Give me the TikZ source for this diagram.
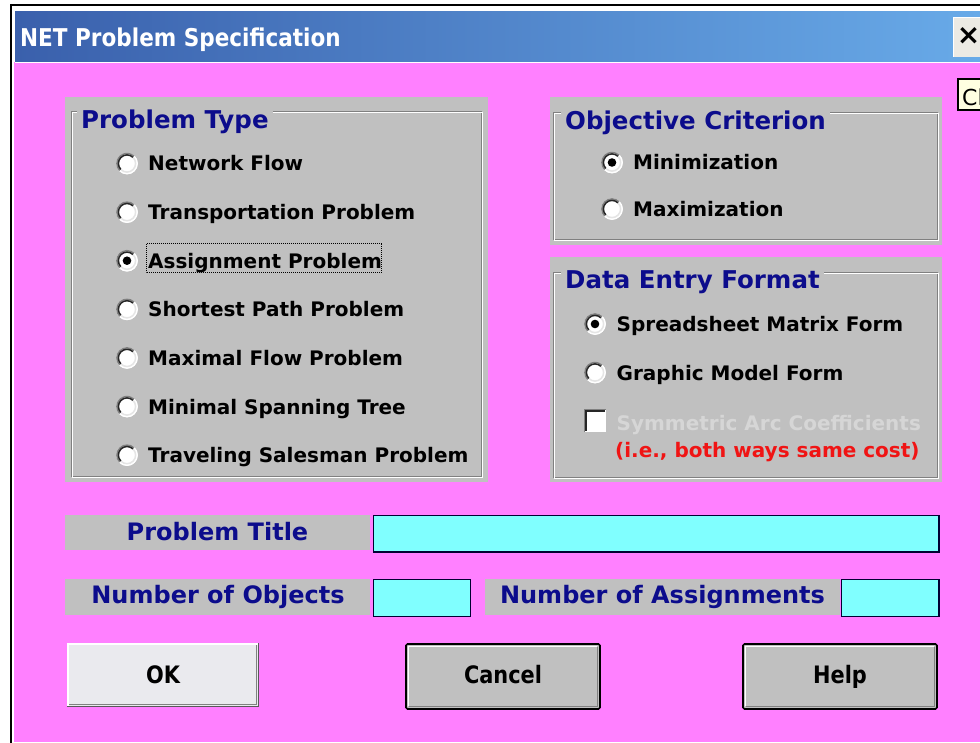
\documentclass[tikz,border=0pt]{standalone}
\usepackage{fontspec}
\setmainfont{DejaVu Sans}
\definecolor{pinkbg}{RGB}{255,128,255}
\definecolor{winGray}{RGB}{192,192,192}
\definecolor{fieldCyan}{RGB}{128,255,255}
\definecolor{navyTxt}{RGB}{12,12,140}
\definecolor{tbL}{RGB}{58,96,172}
\definecolor{tbR}{RGB}{104,170,232}
\definecolor{disTxt}{RGB}{214,214,214}
\definecolor{redTxt}{RGB}{240,20,20}
\definecolor{shadowGray}{RGB}{128,128,128}
\definecolor{okFill}{RGB}{234,234,238}
\definecolor{closeFill}{RGB}{236,234,228}
\definecolor{tipFill}{RGB}{255,255,225}
\tikzset{
  item/.style={inner sep=0pt, anchor=base west, text=black, font=\fontsize{20}{24}\selectfont\bfseries},
  grouptitle/.style={inner xsep=4pt, inner ysep=2pt, anchor=base west, fill=winGray, text=navyTxt, font=\fontsize{24.5}{28}\selectfont\bfseries},
  fieldlabel/.style={inner sep=0pt, anchor=base, text=navyTxt, font=\fontsize{24}{28}\selectfont\bfseries},
  fieldbox/.style={draw=black!80!blue, line width=1.6pt, fill=fieldCyan},
  btntext/.style={inner sep=0pt, anchor=base, text=black, font=\fontsize{24}{28}\selectfont\bfseries},
  radiobtn/.pic={
    \fill[white] (0,0) circle (10.8);
    \draw[shadowGray, line width=1.5pt] (135:10.1) arc (135:315:10.1);
    \draw[white, line width=1.5pt] (315:10.1) arc (315:495:10.1);
    \draw[black!85, line width=1.5pt] (135:8.6) arc (135:315:8.6);
    \draw[black!10, line width=1.5pt] (315:8.6) arc (315:495:8.6);
  },
  radiosel/.pic={
    \pic {radiobtn};
    \fill[black] (0,0) circle (4.3);
  },
}
\begin{document}
\begin{tikzpicture}[x=1pt,y=-1pt]
\useasboundingbox (0,0) rectangle (980,743);
\fill[white] (0,0) rectangle (980,743);
% window frame
\fill[pinkbg] (14,62) rectangle (980,742);
\shade[left color=tbL, right color=tbR] (15,12) rectangle (980,62);
\draw[white, line width=1pt] (15,62.5) -- (980,62.5);
\draw[black, line width=2pt] (10,5) -- (980,5);
\draw[black, line width=2pt] (11,4) -- (11,743);
\node[inner sep=0pt, anchor=base west, text=white, font=\fontsize{24.5}{28}\selectfont\bfseries] (title) at (20,46.5) {\scalebox{0.88}[1]{NET Problem Specification}};
% close button
\fill[closeFill] (953,17) rectangle (985,57);
\draw[white, line width=1.2pt] (953.6,57) -- (953.6,17.6) -- (985,17.6);
\node[inner sep=0pt, text=black, font=\fontsize{28}{30}\selectfont\bfseries] (close) at (968.5,36) {×};
% tooltip (cut off at the right edge, as in the reference)
\draw[black, line width=1.2pt, fill=tipFill] (958,79) rectangle (992,110);
\node[inner sep=0pt, anchor=base west, text=black, font=\fontsize{22}{26}\selectfont] (tip) at (962,106) {Cl};

% ---------- Problem Type group
\fill[winGray] (65,97) rectangle (488,482);
\draw[shadowGray, line width=1pt] (71,112) rectangle (481,476);
\draw[white, line width=1pt] (72,113) rectangle (482,477);
\node[grouptitle] (pt) at (77,129) {Problem Type};
\foreach \n/\t [count=\i from 0] in {nf/Network Flow, tp/Transportation Problem, ap/Assignment Problem, sp/Shortest Path Problem, mf/Maximal Flow Problem, ms/Minimal Spanning Tree, ts/Traveling Salesman Problem}{
  \pgfmathsetmacro{\b}{171+48.6*\i}
  \node[item] (\n) at (148,\b) {\t};
}
\pic at (127,163.5) {radiobtn};
\pic at (127,212.1) {radiobtn};
\pic at (127,260.7) {radiosel};
\pic at (127,309.3) {radiobtn};
\pic at (127,357.9) {radiobtn};
\pic at (127,406.5) {radiobtn};
\pic at (127,455.1) {radiobtn};
\draw[black, line width=1pt, dash pattern=on 1pt off 1pt] (146,244) rectangle (381,273);

% ---------- Objective Criterion group
\fill[winGray] (550,97) rectangle (942,245);
\draw[shadowGray, line width=1pt] (553,113) rectangle (937,240);
\draw[white, line width=1pt] (554,114) rectangle (938,241);
\node[grouptitle] (oc) at (561,130) {Objective Criterion};
\pic at (612,162.5) {radiosel};
\node[item] (mini) at (633,170) {Minimization};
\pic at (612,209) {radiobtn};
\node[item] (maxi) at (633,216.5) {Maximization};

% ---------- Data Entry Format group
\fill[winGray] (550,257) rectangle (942,482);
\draw[shadowGray, line width=1pt] (553,273) rectangle (937,477);
\draw[white, line width=1pt] (554,274) rectangle (938,478);
\node[grouptitle] (de) at (561,289) {Data Entry Format};
\pic at (595,324) {radiosel};
\node[item] (smf) at (616.5,331.5) {Spreadsheet Matrix Form};
\pic at (595,372.5) {radiobtn};
\node[item] (gmf) at (616.5,380) {Graphic Model Form};
\fill[white] (584,409) rectangle (606,432);
\draw[shadowGray, line width=1.2pt] (584.6,432) -- (584.6,409.6) -- (606,409.6);
\draw[black!85, line width=1.2pt] (586,431) -- (586,411) -- (605,411);
\node[item, text=disTxt] (sac) at (616.5,430) {Symmetric Arc Coefficients};
\node[item, text=redTxt] (note) at (615,457) {(i.e., both ways same cost)};

% ---------- fields
\fill[winGray] (65,515) rectangle (370,550);
\node[fieldlabel] (ptl) at (217.5,540) {Problem Title};
\draw[fieldbox] (373.5,515.5) rectangle (939,552);
\fill[winGray] (65,579) rectangle (370,615);
\node[fieldlabel] (nol) at (218,603) {Number of Objects};
\draw[fieldbox] (373.5,579.5) rectangle (470.5,616.5);
\fill[winGray] (485,579) rectangle (840,615);
\node[fieldlabel] (nal) at (662.5,603) {Number of Assignments};
\draw[fieldbox] (841.5,579.5) rectangle (939,616.5);

% ---------- buttons
% OK
\fill[okFill] (67,643) rectangle (259,707);
\draw[white, line width=1.5pt] (67.75,706) -- (67.75,643.75) -- (258,643.75);
\draw[black!65, line width=1.5pt] (67,706.25) -- (258.25,706.25) -- (258.25,643);
\draw[shadowGray, line width=1pt] (69,704.5) -- (256.5,704.5) -- (256.5,645);
\node[btntext] (ok) at (163,683) {\scalebox{0.87}[1]{OK}};
% Cancel
\draw[black, line width=1.6pt, fill=winGray, rounded corners=1.5pt] (406,644) rectangle (600,709);
\draw[white, line width=1.6pt] (408.5,706) -- (408.5,646.5) -- (597,646.5);
\draw[shadowGray, line width=1.6pt] (408.5,706.5) -- (597.5,706.5) -- (597.5,646.5);
\node[btntext] (cancel) at (503,683) {\scalebox{0.87}[1]{Cancel}};
% Help
\draw[black, line width=1.6pt, fill=winGray, rounded corners=1.5pt] (743,644) rectangle (937,709);
\draw[white, line width=1.6pt] (745.5,706) -- (745.5,646.5) -- (934,646.5);
\draw[shadowGray, line width=1.6pt] (745.5,706.5) -- (934.5,706.5) -- (934.5,646.5);
\node[btntext] (help) at (840,683) {\scalebox{0.87}[1]{Help}};
\end{tikzpicture}
\end{document}
